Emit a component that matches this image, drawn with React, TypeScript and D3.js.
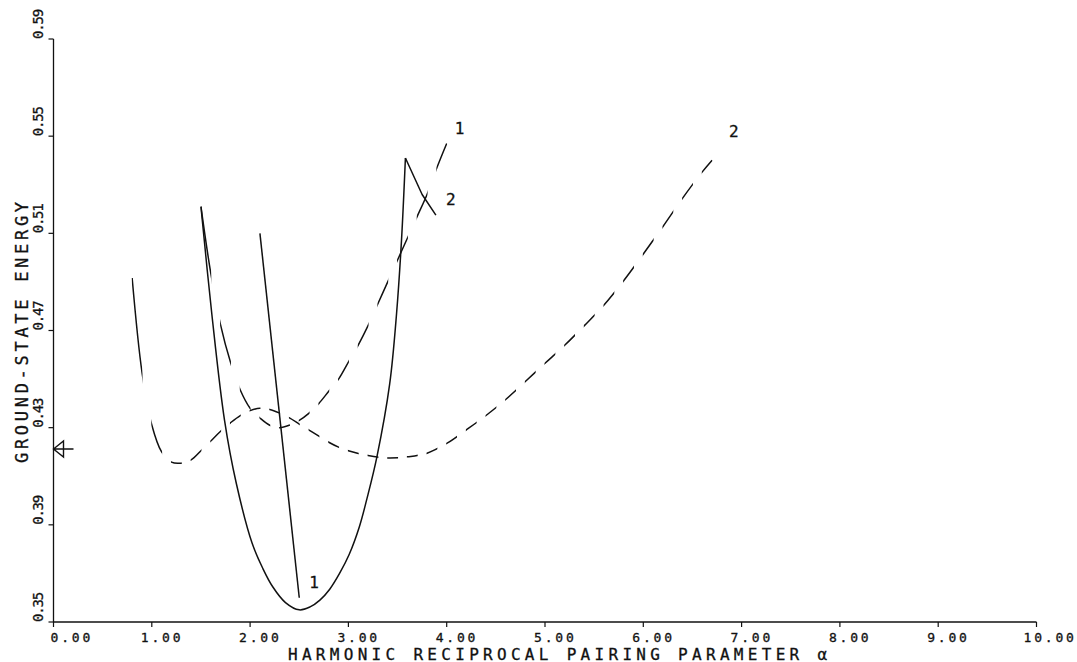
import * as d3 from "d3";

const width = 1077;
const height = 662;

const xTicks = [0, 1, 2, 3, 4, 5, 6, 7, 8, 9, 10];
const yTicks = [0.35, 0.39, 0.43, 0.47, 0.51, 0.55, 0.59];

// solid straight line (label 1)
const lineAlpha = [2.1, 2.5];
const lineEnergy = [0.51, 0.36];

// solid parabola up to its sharp peak, then a straight tail (label 2)
const solidAlpha = [1.5, 1.61, 1.74, 1.86, 2.02, 2.13, 2.23, 2.36, 2.5, 2.61, 2.71, 2.81, 2.91, 3.01, 3.11, 3.19, 3.29, 3.42, 3.49, 3.54, 3.58];
const solidEnergy = [0.521, 0.477, 0.433, 0.407, 0.3825, 0.372, 0.3645, 0.358, 0.355, 0.3562, 0.359, 0.3635, 0.37, 0.378, 0.389, 0.401, 0.418, 0.448, 0.477, 0.507, 0.541];
const tailAlpha = [3.58, 3.75, 3.89];
const tailEnergy = [0.541, 0.526, 0.5175];

// dashed curve (label 1)
const dash1Alpha = [1.5, 1.6, 1.7, 1.8, 1.9, 2.0, 2.1, 2.2, 2.3, 2.4, 2.5, 2.6, 2.7, 2.8, 2.9, 3.0, 3.1, 3.2, 3.3, 3.4, 3.5, 3.6, 3.7, 3.8, 3.9, 4.0];
const dash1Energy = [0.521, 0.4936, 0.4722, 0.457, 0.4455, 0.438, 0.434, 0.431, 0.43, 0.431, 0.433, 0.436, 0.44, 0.445, 0.45, 0.457, 0.464, 0.472, 0.481, 0.49, 0.499, 0.508, 0.517, 0.526, 0.537, 0.547];

// dashed curve (label 2)
const dash2Alpha = [0.8, 0.9, 1.0, 1.1, 1.2, 1.3, 1.4, 1.5, 1.6, 1.7, 1.8, 1.9, 2.0, 2.1, 2.2, 2.3, 2.4, 2.5, 2.6, 2.7, 2.8, 2.9, 3.0, 3.2, 3.4, 3.6, 3.8, 4.0, 4.2, 4.4, 4.6, 4.8, 5.0, 5.2, 5.4, 5.6, 5.8, 6.0, 6.2, 6.4, 6.6, 6.7];
const dash2Energy = [0.4916, 0.4529, 0.4311, 0.42, 0.4158, 0.4154, 0.4167, 0.4205, 0.4245, 0.4285, 0.432, 0.435, 0.437, 0.438, 0.4375, 0.436, 0.434, 0.4315, 0.429, 0.4265, 0.424, 0.422, 0.4205, 0.4185, 0.4175, 0.418, 0.4195, 0.4235, 0.4291, 0.435, 0.4416, 0.449, 0.4565, 0.4639, 0.472, 0.4805, 0.4905, 0.5015, 0.5128, 0.5245, 0.5353, 0.5401];

const refEnergy = 0.4212;

const series = [
  { id: "line1", alpha: lineAlpha, energy: lineEnergy, dashed: false, smooth: false, label: "1", dx: 10, dy: -10 },
  { id: "solid2", alpha: solidAlpha, energy: solidEnergy, dashed: false, smooth: true, label: "", dx: 0, dy: 0 },
  { id: "tail2", alpha: tailAlpha, energy: tailEnergy, dashed: false, smooth: false, label: "2", dx: 10, dy: -10 },
  { id: "dash1", alpha: dash1Alpha, energy: dash1Energy, dashed: true, smooth: true, label: "1", dx: 8, dy: -9 },
  { id: "dash2", alpha: dash2Alpha, energy: dash2Energy, dashed: true, smooth: true, label: "2", dx: 17, dy: -23 },
];

const x = d3.scaleLinear().domain([0, 10]).range([53.5, 1036.5]);
const y = d3.scaleLinear().domain([0.35, 0.59]).range([622, 39]);

const fmt = d3.format(".2f");
const mono = '"DejaVu Sans Mono", monospace';
const ink = "#111";

const smoothLine = d3
  .line<[number, number]>()
  .x((d) => x(d[0]))
  .y((d) => y(d[1]))
  .curve(d3.curveCatmullRom.alpha(0.5));
const straightLine = d3
  .line<[number, number]>()
  .x((d) => x(d[0]))
  .y((d) => y(d[1]));

// plotter dashes: pen down for 0.1 in alpha, up for 0.1
function stripes(a0: number, a1: number) {
  const out: [number, number][] = [];
  for (let a = a0; a < a1 - 1e-6; a += 0.2) {
    out.push([a, Math.min(a + 0.1, a1)]);
  }
  return out;
}

export default function App() {
  const ry = y(refEnergy);
  const rx = x(0);
  return (
    <div style={{ position: "absolute", left: 0, top: 0 }}>
      <svg width={width} height={height} fontFamily={mono} style={{ display: "block", background: "white" }}>
        <defs>
          {series
            .filter((s) => s.dashed)
            .map((s) => (
              <clipPath key={s.id} id={`clip-${s.id}`}>
                {stripes(s.alpha[0], s.alpha[s.alpha.length - 1]).map(([a, b]) => (
                  <rect key={a} x={x(a) - 0.5} y={0} width={x(b) - x(a) + 1} height={height} />
                ))}
              </clipPath>
            ))}
        </defs>

        {/* axes */}
        <line x1={x(0)} x2={x(0)} y1={y(0.59)} y2={y(0.35)} stroke={ink} strokeWidth={1.3} />
        <line x1={x(0)} x2={x(10)} y1={y(0.35)} y2={y(0.35)} stroke={ink} strokeWidth={1.3} />
        {yTicks.map((t) => (
          <g key={t}>
            <line x1={x(0) - 5} x2={x(0)} y1={y(t)} y2={y(t)} stroke={ink} strokeWidth={1.2} />
            <text
              transform={`translate(43, ${y(t)}) rotate(-90)`}
              fontSize={14}
              letterSpacing={-1.2}
              fill={ink}
              stroke={ink}
              strokeWidth={0.3}
            >
              {fmt(t)}
            </text>
          </g>
        ))}
        {xTicks.map((t, i) => (
          <g key={t}>
            <line x1={x(t)} x2={x(t)} y1={y(0.35)} y2={y(0.35) + 5} stroke={ink} strokeWidth={1.2} />
            <text
              x={x(t) + (i === 0 ? -3 : t === 10 ? -13 : -11)}
              y={642}
              fontSize={13}
              letterSpacing={2.8}
              fill={ink}
              stroke={ink}
              strokeWidth={0.3}
            >
              {fmt(t)}
            </text>
          </g>
        ))}
        <text x={288} y={659.5} fontSize={16} letterSpacing={4.3} fill={ink} stroke={ink} strokeWidth={0.3}>
          HARMONIC RECIPROCAL PAIRING PARAMETER α
        </text>
        <text
          transform="translate(28, 463) rotate(-90)"
          fontSize={17}
          letterSpacing={3.7}
          fill={ink}
          stroke={ink}
          strokeWidth={0.3}
        >
          GROUND-STATE ENERGY
        </text>

        {/* reference arrow */}
        <path
          d={`M${rx},${ry} L${rx + 10},${ry - 8} L${rx + 10},${ry + 8} Z M${rx},${ry} L${rx + 20},${ry}`}
          fill="none"
          stroke={ink}
          strokeWidth={1.4}
        />

        {series.map((s) => {
          const pts = s.alpha.map((a, i) => [a, s.energy[i]] as [number, number]);
          const last = pts[pts.length - 1];
          const gen = s.smooth ? smoothLine : straightLine;
          return (
            <g key={s.id}>
              <path
                d={gen(pts) ?? ""}
                fill="none"
                stroke={ink}
                strokeWidth={1.5}
                strokeLinejoin="round"
                clipPath={s.dashed ? `url(#clip-${s.id})` : undefined}
              />
              {s.label && (
                <text
                  x={x(last[0]) + s.dx}
                  y={y(last[1]) + s.dy}
                  fontSize={16}
                  fill={ink}
                  stroke={ink}
                  strokeWidth={0.3}
                >
                  {s.label}
                </text>
              )}
            </g>
          );
        })}
      </svg>
    </div>
  );
}
